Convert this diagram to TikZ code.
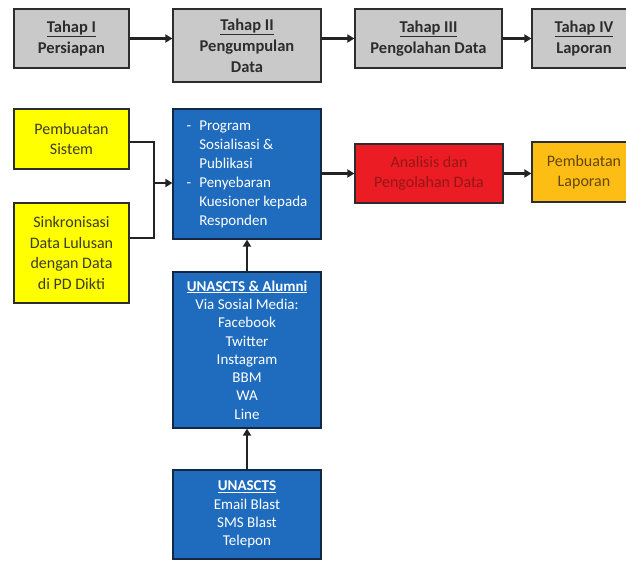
\documentclass[tikz,border=0pt]{standalone}
\usepackage{fontspec}
\setmainfont{Carlito}
\usetikzlibrary{arrows.meta}
\definecolor{boxline}{RGB}{45,45,45}
\definecolor{stagegray}{RGB}{201,201,201}
\definecolor{stagetext}{RGB}{45,45,45}
\definecolor{ylw}{RGB}{255,255,0}
\definecolor{ylwtext}{RGB}{60,60,40}
\definecolor{blu}{RGB}{31,108,190}
\definecolor{bluline}{RGB}{20,40,70}
\definecolor{rd}{RGB}{236,28,36}
\definecolor{rdtext}{RGB}{150,22,22}
\definecolor{orng}{RGB}{252,190,20}
\definecolor{orngtext}{RGB}{100,70,10}
\definecolor{arrowc}{RGB}{35,35,35}
\tikzset{
  box/.style={draw=boxline, line width=1.2bp, inner sep=0pt, align=center},
  stage/.style={box, fill=stagegray, text=stagetext, font=\bfseries\fontsize{16.5bp}{21bp}\selectfont},
  ybox/.style={box, fill=ylw, text=ylwtext, font=\fontsize{16bp}{20.5bp}\selectfont},
  bbox/.style={box, draw=bluline, fill=blu, text=white, font=\fontsize{15bp}{18.3bp}\selectfont},
  rbox/.style={box, fill=rd, text=rdtext, font=\fontsize{16bp}{20bp}\selectfont},
  obox/.style={box, fill=orng, text=orngtext, font=\fontsize{16bp}{20bp}\selectfont},
  flow/.style={draw=arrowc, line width=2.2bp, -{Triangle[length=7bp,width=8bp]}},
  joinline/.style={draw=arrowc, line width=1.3bp},
}
\begin{document}
\begin{tikzpicture}[x=1bp, y=-1bp]
\fill[white] (0,0) rectangle (626,561);
\useasboundingbox (0,0) rectangle (626,561);

% top row
\node[stage, minimum width=115bp, minimum height=59bp] (t1) at (71.5,38.5) {\underline{Tahap I}\\Persiapan};
\node[stage, minimum width=148bp, minimum height=73bp] (t2) at (247,45.5) {\underline{Tahap II}\\Pengumpulan\\Data};
\node[stage, minimum width=147bp, minimum height=59bp] (t3) at (428.5,38.5) {\underline{Tahap III}\\Pengolahan Data};
\node[stage, minimum width=104bp, minimum height=59bp] (t4) at (584,38.5) {\underline{Tahap IV}\\Laporan};

\draw[flow] (t1.east) -- (t1.east -| t2.west);
\draw[flow] (t3.west -| t2.east) -- (t3.west);
\draw[flow] (t3.east) -- (t4.west);

% second row
\node[ybox, minimum width=115bp, minimum height=60bp] (p1) at (71.5,139) {Pembuatan\\Sistem};
\node[ybox, minimum width=115bp, minimum height=100bp] (p2) at (71.5,253) {Sinkronisasi\\Data Lulusan\\dengan Data\\di PD Dikti};
\node[bbox, minimum width=148bp, minimum height=130bp, align=left] (b1) at (247,174) {\fontsize{15bp}{19bp}\selectfont\begin{tabular}{@{}l@{\hspace{8bp}}l@{}}
- & Program\\
 & Sosialisasi \&\\
 & Publikasi\\
- & Penyebaran\\
 & Kuesioner kepada\\
 & Responden
\end{tabular}};
\node[rbox, minimum width=148bp, minimum height=59bp] (r1) at (429,173.5) {Analisis dan\\Pengolahan Data};
\node[obox, minimum width=104bp, minimum height=60bp] (o1) at (584,172) {Pembuatan\\Laporan};

\coordinate (m) at (154,183);
\draw[joinline] ([yshift=-3bp]p1.east) -| (m);
\draw[joinline] ([yshift=15bp]p2.east) -| (m);
\draw[flow] (m) -- (m -| b1.west);
\draw[flow] (b1.east |- r1.west) -- (r1.west);
\draw[flow] (r1.east) -- (r1.east -| o1.west);

% lower column
\node[bbox, minimum width=148bp, minimum height=156bp] (a1) at (247,350) {\textbf{\underline{UNASCTS \& Alumni}}\\Via Sosial Media:\\Facebook\\Twitter\\Instagram\\BBM\\WA\\Line};
\node[bbox, minimum width=148bp, minimum height=89bp] (u1) at (247,514.5) {\textbf{\underline{UNASCTS}}\\Email Blast\\SMS Blast\\Telepon};

\draw[flow] (a1.north) -- (b1.south);
\draw[flow] (u1.north) -- (a1.south);
\end{tikzpicture}
\end{document}
